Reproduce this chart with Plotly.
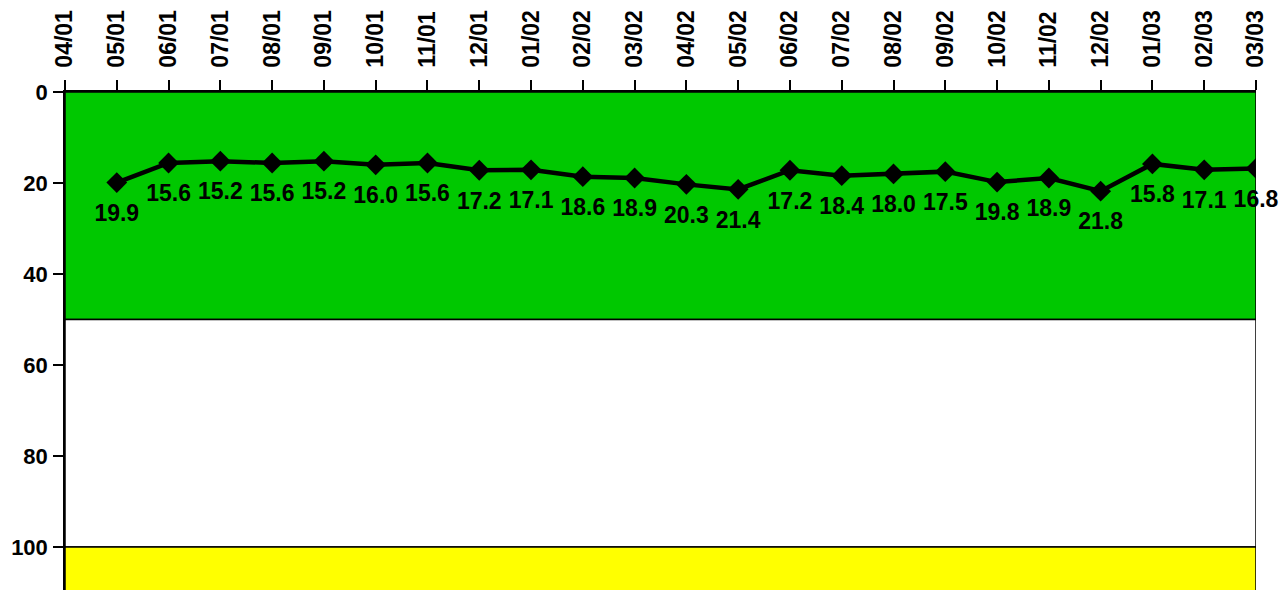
import plotly.graph_objects as go

categories = ["04/01", "05/01", "06/01", "07/01", "08/01", "09/01", "10/01", "11/01", "12/01",
              "01/02", "02/02", "03/02", "04/02", "05/02", "06/02", "07/02", "08/02", "09/02",
              "10/02", "11/02", "12/02", "01/03", "02/03", "03/03"]
values = [None, 19.9, 15.6, 15.2, 15.6, 15.2, 16.0, 15.6, 17.2, 17.1, 18.6, 18.9, 20.3, 21.4,
          17.2, 18.4, 18.0, 17.5, 19.8, 18.9, 21.8, 15.8, 17.1, 16.8]
y_ticks = [0, 20, 40, 60, 80, 100]
bands = [(0, 50, "#00C800"), (50, 100, "#FFFFFF"), (100, 130, "#FFFF00")]

idx = list(range(len(categories)))
xs = [i for i, v in zip(idx, values) if v is not None]
ys = [v for v in values if v is not None]

FONT = "Liberation Sans, Arial, sans-serif"

fig = go.Figure()
fig.add_trace(go.Scatter(
    x=xs, y=ys, mode="lines+markers",
    line=dict(color="black", width=4.5),
    marker=dict(symbol="diamond", size=16, color="black"),
    showlegend=False, hoverinfo="skip",
))
fig.add_trace(go.Scatter(
    x=xs, y=ys, mode="markers+text",
    marker=dict(size=32, color="rgba(0,0,0,0)"),
    text=[f"{v:.1f}" for v in ys],
    textposition="bottom center",
    textfont=dict(family=FONT, size=23, color="black", weight="bold"),
    cliponaxis=False, showlegend=False, hoverinfo="skip",
))

for y0, y1, col in bands:
    fig.add_shape(type="rect", xref="x", yref="y", x0=0, x1=len(categories) - 1,
                  y0=y0, y1=y1, fillcolor=col, line=dict(color="black", width=1.5),
                  layer="below")

fig.update_layout(
    width=1288, height=590,
    margin=dict(l=57, r=40, t=84, b=8),
    paper_bgcolor="white", plot_bgcolor="white",
    xaxis=dict(
        side="top", range=[0, len(categories) - 1], automargin=False,
        tickmode="array", tickvals=idx, ticktext=categories,
        tickangle=-90, ticks="outside", ticklen=10, tickcolor="black", tickwidth=1.5,
        ticklabelstandoff=8,
        showline=True, linecolor="black", linewidth=1.5,
        showgrid=False, zeroline=False,
        tickfont=dict(family=FONT, size=23, color="black", weight="bold"),
    ),
    yaxis=dict(
        range=[109.45, 0], tickmode="array", tickvals=y_ticks, automargin=False,
        ticks="outside", ticklen=10, tickcolor="black", tickwidth=1.5,
        ticklabelstandoff=1,
        showline=True, linecolor="black", linewidth=1.5,
        showgrid=False, zeroline=False,
        tickfont=dict(family=FONT, size=22, color="black", weight="bold"),
    ),
)

fig.write_html("out.html")
